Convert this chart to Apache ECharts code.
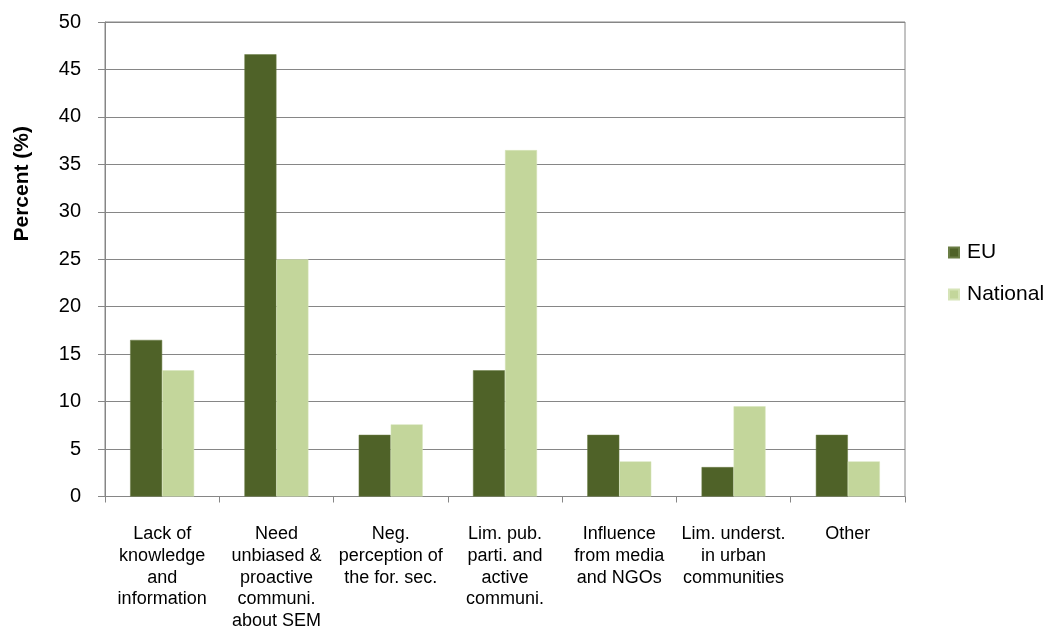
<!DOCTYPE html>
<html>
<head>
<meta charset="utf-8">
<script src="https://cdn.jsdelivr.net/npm/echarts@6/dist/echarts.min.js"></script>
<style>
html,body{margin:0;padding:0;background:#fff;}
#chart{width:1051px;height:632px;}
</style>
</head>
<body>
<div id="chart"></div>
<script>
const categories = [
  'Lack of\nknowledge\nand\ninformation',
  'Need\nunbiased &\nproactive\ncommuni.\nabout SEM',
  'Neg.\nperception of\nthe for. sec.',
  'Lim. pub.\nparti. and\nactive\ncommuni.',
  'Influence\nfrom media\nand NGOs',
  'Lim. underst.\nin urban\ncommunities',
  'Other'
];
const euValues = [16.5, 46.6, 6.5, 13.3, 6.5, 3.1, 6.5];
const nationalValues = [13.3, 25.0, 7.6, 36.5, 3.7, 9.5, 3.7];
const yTicks = [0, 5, 10, 15, 20, 25, 30, 35, 40, 45, 50];

const FONT = 'Liberation Sans, Arial, sans-serif';
const GRAY = '#868686';
const chart = echarts.init(document.getElementById('chart'));
chart.setOption({
  animation: false,
  backgroundColor: '#ffffff',
  textStyle: { fontFamily: FONT },
  grid: {
    left: 105, right: 146, top: 22, bottom: 133,
    show: true, borderColor: GRAY, borderWidth: 1
  },
  legend: {
    orient: 'vertical',
    left: 943, top: 237,
    itemWidth: 10, itemHeight: 10, itemGap: 21,
    icon: 'rect',
    textStyle: { fontSize: 21, color: '#000', fontFamily: FONT, padding: [0, 0, 0, 3] },
    data: ['EU', 'National']
  },
  graphic: [{
    type: 'text',
    left: 12, top: 126,
    rotation: Math.PI / 2,
    style: {
      text: 'Percent (%)',
      fontSize: 21, fontWeight: 'bold', fill: '#000', fontFamily: FONT
    }
  }],
  xAxis: {
    type: 'category',
    data: categories,
    axisLine: { lineStyle: { color: GRAY, width: 1 } },
    axisTick: { show: true, length: 6, lineStyle: { color: GRAY } },
    axisLabel: {
      interval: 0, margin: 27, fontSize: 18, lineHeight: 21.7, color: '#000',
      fontFamily: FONT, align: 'center'
    }
  },
  yAxis: {
    type: 'value',
    min: yTicks[0], max: yTicks[yTicks.length - 1], interval: 5,
    axisLine: { show: true, lineStyle: { color: GRAY, width: 1 } },
    axisTick: { show: true, length: 7, lineStyle: { color: GRAY } },
    splitLine: { show: true, lineStyle: { color: GRAY, width: 1 } },
    axisLabel: { margin: 24, fontSize: 20, color: '#000', fontFamily: FONT }
  },
  series: [
    {
      name: 'EU', type: 'bar', data: euValues,
      barGap: '0%', barCategoryGap: '44%',
      itemStyle: { color: '#4F6228', borderColor: '#6a7d45', borderWidth: 0.5 }
    },
    {
      name: 'National', type: 'bar', data: nationalValues,
      barGap: '0%', barCategoryGap: '44%',
      itemStyle: { color: '#C3D69B', borderColor: '#d6e4b8', borderWidth: 0.5 }
    }
  ]
});
</script>
</body>
</html>
